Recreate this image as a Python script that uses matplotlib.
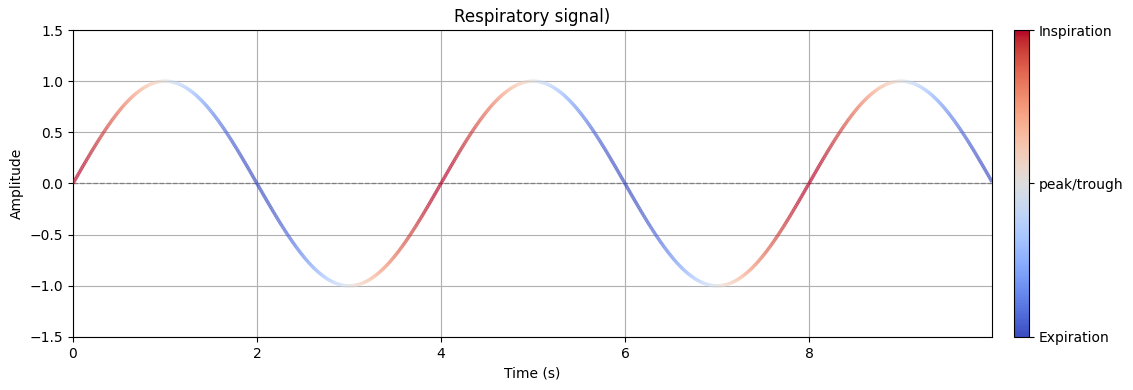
import numpy as np
import matplotlib
matplotlib.use("Agg")
import matplotlib.pyplot as plt
from matplotlib.collections import LineCollection
from matplotlib.colors import Normalize

# Signal parameters
AMPLITUDE = 1.0
PERIOD = 4.0          # seconds per breath
DURATION = 10.0       # seconds shown
N_SAMPLES = 1000

cbar_ticks = [-1, 0, 1]
cbar_labels = ["Expiration", "peak/trough", "Inspiration"]

t = np.linspace(0, DURATION, N_SAMPLES, endpoint=False)
signal = AMPLITUDE * np.sin(2 * np.pi * t / PERIOD)
phase = np.cos(2 * np.pi * t / PERIOD)   # slope sign -> inspiration/expiration

fig = plt.figure(figsize=(11.33, 3.9), dpi=100)
ax = fig.add_axes([0.0644, 0.136, 0.8112, 0.787])
cax = fig.add_axes([0.895, 0.136, 0.0135, 0.787])

norm = Normalize(-1, 1)
pts = np.array([t, signal]).T.reshape(-1, 1, 2)
segs = np.concatenate([pts[:-1], pts[1:]], axis=1)
lc = LineCollection(segs, cmap="coolwarm", norm=norm, linewidth=2.5, alpha=0.7, zorder=3)
lc.set_array(phase[:-1])
ax.add_collection(lc)

ax.axhline(0, color="gray", linestyle="--", linewidth=0.9, zorder=2)
ax.set_xlim(0, t.max())
ax.set_ylim(-1.5, 1.5)
ax.set_xticks([0, 2, 4, 6, 8])
ax.grid(True, color="#b0b0b0", linewidth=0.8)
ax.set_axisbelow(True)
ax.set_xlabel("Time (s)")
ax.set_ylabel("Amplitude")
ax.set_title("Respiratory signal)")

sm = plt.cm.ScalarMappable(cmap="coolwarm", norm=norm)
cb = fig.colorbar(sm, cax=cax, ticks=cbar_ticks)
cb.set_ticklabels(cbar_labels)

fig.savefig("out.png", dpi=100)
